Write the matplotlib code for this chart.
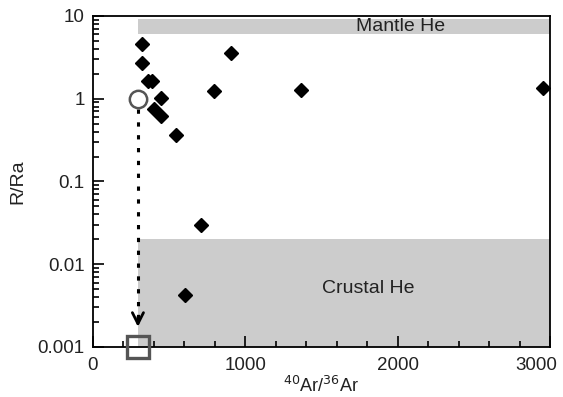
import matplotlib
matplotlib.use("Agg")
import matplotlib.pyplot as plt
from matplotlib.ticker import LogLocator, FixedLocator, FixedFormatter, MultipleLocator

plt.rcParams["font.family"] = ["Liberation Sans", "DejaVu Sans"]

# Sample data: 40Ar/36Ar vs R/Ra
ar_ratio = [324, 324, 363, 389, 444, 402, 444, 545, 794, 906, 1363, 2954, 709, 604]
r_ra = [4.54, 2.72, 1.64, 1.64, 1.03, 0.75, 0.625, 0.364, 1.24, 3.59, 1.29, 1.33, 0.0295, 0.0042]

# Air reference
AIR_AR = 295.5
AIR_R = 1.0
AIR_R_LOW = 0.001

# Reference fields
MANTLE_R = (6.0, 9.2)
CRUST_R = (0.001, 0.02)

x_ticks = [0, 1000, 2000, 3000]
x_tick_labels = ["0", "1000", "2000", ""]   # "3000" is placed by hand below
y_ticks = [0.001, 0.01, 0.1, 1, 10]
y_tick_labels = ["0.001", "0.01", "0.1", "1", "10"]

fig = plt.figure(figsize=(5.63, 3.97), dpi=100)
ax = fig.add_axes([0.165, 0.126, 0.812, 0.834])

ax.set_yscale("log")
ax.set_xlim(0, 3000)
ax.set_ylim(0.001, 10)

# shaded fields
ax.fill_between([AIR_AR, 3000], MANTLE_R[0], MANTLE_R[1], color="#cccccc", lw=0, zorder=1)
ax.fill_between([AIR_AR, 3000], CRUST_R[0], CRUST_R[1], color="#cccccc", lw=0, zorder=1)
ax.text(2020, 7.5, "Mantle He", ha="center", va="center", fontsize=14, color="#222222")
ax.text(1810, 0.0051, "Crustal He", ha="center", va="center", fontsize=14, color="#222222")

# samples
ax.plot(ar_ratio, r_ra, "D", color="black", ms=7, zorder=4, clip_on=False)

# air point and its projection down the axis: dotted shaft + solid open head
ax.plot([AIR_AR, AIR_AR], [0.76, 0.0019], ls=(0, (1.4, 2.8)), lw=2.2, color="black", zorder=3)
ax.annotate("", xy=(AIR_AR, 0.00175), xytext=(AIR_AR, 0.0023),
            arrowprops=dict(arrowstyle="->", lw=2.0, color="black", mutation_scale=20,
                            shrinkA=0, shrinkB=0), zorder=3)
ax.plot([AIR_AR], [AIR_R], "o", mfc="white", mec="#555555", mew=1.8, ms=12.5, zorder=5)
ax.plot([AIR_AR], [AIR_R_LOW], "s", mfc="none", mec="#555555", mew=2.4, ms=16, zorder=5, clip_on=False)

# axes styling
ax.xaxis.set_major_locator(FixedLocator(x_ticks))
ax.xaxis.set_major_formatter(FixedFormatter(x_tick_labels))
ax.xaxis.set_minor_locator(MultipleLocator(200))
ax.yaxis.set_major_locator(FixedLocator(y_ticks))
ax.yaxis.set_major_formatter(FixedFormatter(y_tick_labels))
ax.yaxis.set_minor_locator(LogLocator(base=10, subs=range(2, 10), numticks=20))
ax.tick_params(which="both", direction="in", labelsize=13.5, colors="black", labelcolor="#222222")
ax.tick_params(which="major", length=8, width=1.2)
ax.tick_params(which="minor", length=4, width=1.2)
ax.tick_params(axis="x", which="major", pad=7)
ax.tick_params(axis="y", which="major", pad=6)
for s in ax.spines.values():
    s.set_linewidth(1.3)

# last x label sits a little left of its tick so it stays inside the figure
ax.annotate("3000", xy=(3000, 0), xycoords=("data", "axes fraction"),
            xytext=(-10, -7), textcoords="offset points", ha="center", va="top",
            fontsize=13.5, color="#222222", annotation_clip=False)

ax.set_xlabel(r"$^{40}$Ar/$^{36}$Ar", fontsize=13, color="#222222", labelpad=1.5)
ax.set_ylabel("R/Ra", fontsize=14, color="#222222", labelpad=8)

fig.savefig("out.png", dpi=100)
